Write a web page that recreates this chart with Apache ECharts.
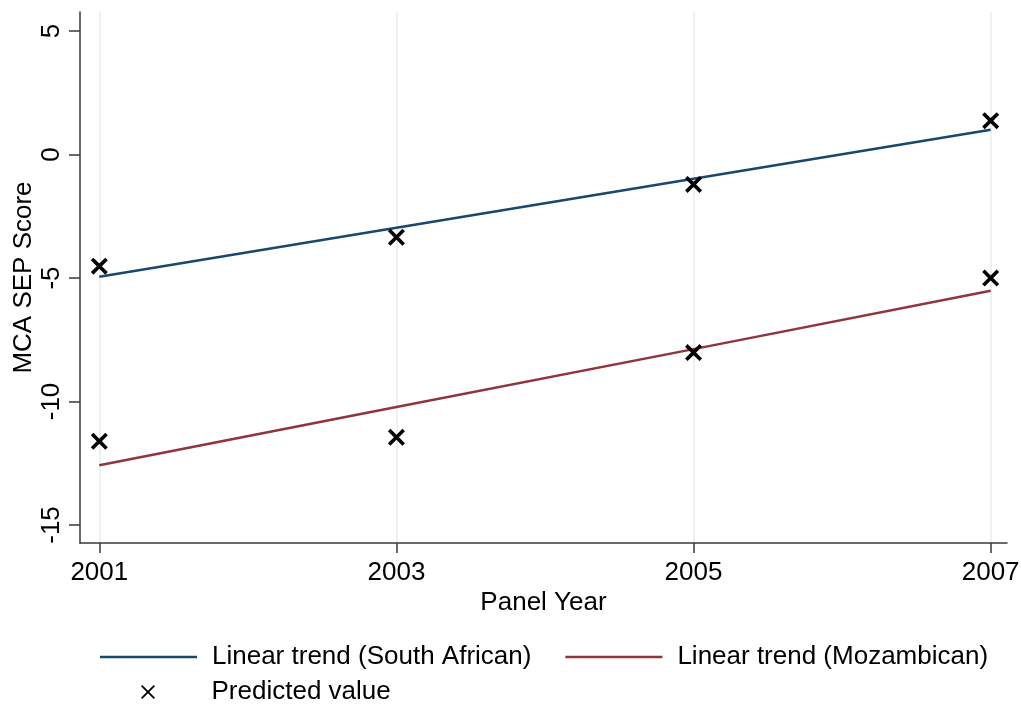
<!DOCTYPE html>
<html>
<head>
<meta charset="utf-8">
<script src="https://cdn.jsdelivr.net/npm/echarts@6/dist/echarts.min.js"></script>
<style>
  html, body { margin: 0; padding: 0; background: #fff; }
  #chart { width: 1021px; height: 704px; }
</style>
</head>
<body>
<div id="chart"></div>
<script>
// 读自图片的数值
const years = [2001, 2003, 2005, 2007];
const saTrend = [-4.95, -2.97, -0.98, 1.0];
const mzTrend = [-12.58, -10.22, -7.88, -5.52];
const saPredicted = [-4.52, -3.35, -1.21, 1.37];
const mzPredicted = [-11.61, -11.45, -8.02, -5.0];
const yTicks = [-15, -10, -5, 0, 5];

const NAVY = "#1a476f";
const MAROON = "#90353b";
const AXIS = "#3a3a3a";
const GRID = "#eaf2f3";
const FONT = "Liberation Sans";
const FS = 26;

// 粗 x 标记（图中点）与细 x 标记（图例）
const BOLD_X = "path://M0,3 L3,0 L10,7 L17,0 L20,3 L13,10 L20,17 L17,20 L10,13 L3,20 L0,17 L7,10 Z";
const THIN_X = "path://M0,1.8 L1.8,0 L10,8.2 L18.2,0 L20,1.8 L11.8,10 L20,18.2 L18.2,20 L10,11.8 L1.8,20 L0,18.2 L8.2,10 Z";
const LINE_ICON = "path://M0,0 L97,0 L97,2.5 L0,2.5 Z";

const pairs = (xs, ys) => xs.map((x, i) => [x, ys[i]]);
const legendText = { fontSize: FS, color: "#000", fontFamily: FONT, padding: [0, 0, 0, 10] };

const chart = echarts.init(document.getElementById("chart"), null, { renderer: "canvas" });

chart.setOption({
  animation: false,
  textStyle: { fontFamily: FONT },
  grid: { left: 80, right: 14, top: 12, bottom: 161, containLabel: false, outerBoundsMode: "none" },
  xAxis: {
    type: "value",
    min: 2000.87,
    max: 2007.11,
    name: "Panel Year",
    nameLocation: "middle",
    nameGap: 47,
    nameMoveOverlap: false,
    nameTextStyle: { fontSize: FS, color: "#000", fontFamily: FONT },
    axisLine: { onZero: false, lineStyle: { color: AXIS, width: 1.5 } },
    axisTick: { customValues: years, length: 10, lineStyle: { color: AXIS, width: 1.5 } },
    axisLabel: {
      customValues: years,
      fontSize: FS,
      color: "#000",
      margin: 17,
      fontFamily: FONT,
      formatter: (v) => String(v),
    },
    splitLine: { show: true, lineStyle: { color: GRID, width: 2 } },
  },
  yAxis: {
    type: "value",
    min: -15.73,
    max: 5.77,
    name: "MCA SEP Score",
    nameLocation: "middle",
    nameGap: 43,
    nameMoveOverlap: false,
    nameTextStyle: { fontSize: FS, color: "#000", fontFamily: FONT },
    axisLine: { show: true, onZero: false, lineStyle: { color: AXIS, width: 1.5 } },
    axisTick: { show: true, customValues: yTicks, length: 11, lineStyle: { color: AXIS, width: 1.5 } },
    axisLabel: { customValues: yTicks, rotate: 90, fontSize: FS, color: "#000", margin: 15, fontFamily: FONT },
    splitLine: { show: false },
  },
  legend: [
    {
      left: 100,
      top: 644,
      padding: 0,
      orient: "horizontal",
      itemWidth: 97,
      itemHeight: 3,
      itemGap: 34,
      data: [
        { name: "Linear trend (South African)", icon: LINE_ICON },
        { name: "Linear trend (Mozambican)", icon: LINE_ICON },
      ],
      textStyle: legendText,
    },
    {
      left: 141,
      top: 679,
      padding: 0,
      itemWidth: 97,
      itemHeight: 14,
      symbolKeepAspect: true,
      data: [{ name: "Predicted value", icon: THIN_X }],
      itemStyle: { color: "#000" },
      textStyle: legendText,
    },
  ],
  series: [
    {
      name: "Linear trend (South African)",
      type: "line",
      symbol: "none",
      data: pairs(years, saTrend),
      lineStyle: { color: NAVY, width: 2.5 },
      itemStyle: { color: NAVY },
      z: 2,
    },
    {
      name: "Linear trend (Mozambican)",
      type: "line",
      symbol: "none",
      data: pairs(years, mzTrend),
      lineStyle: { color: MAROON, width: 2.5 },
      itemStyle: { color: MAROON },
      z: 2,
    },
    {
      name: "Predicted value",
      type: "scatter",
      symbol: BOLD_X,
      symbolSize: 17,
      data: pairs(years, saPredicted).concat(pairs(years, mzPredicted)),
      itemStyle: { color: "#000", opacity: 1 },
      z: 3,
    },
  ],
});
</script>
</body>
</html>
